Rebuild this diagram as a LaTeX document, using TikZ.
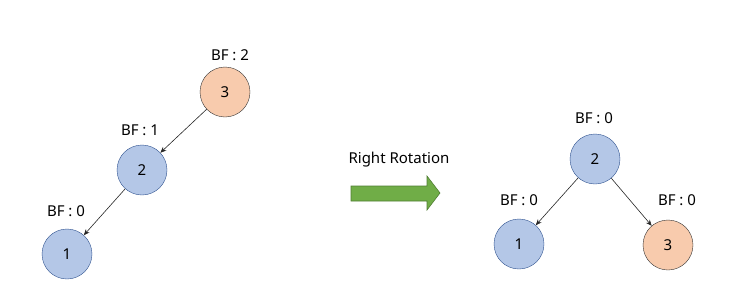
\documentclass[tikz,border=0pt]{standalone}
\usepackage{fontspec}
\setmainfont{Noto Sans}
\usepackage{xcolor}
\definecolor{nodeblue}{HTML}{B4C7E7}
\definecolor{nodeblueline}{HTML}{2F528F}
\definecolor{nodeorange}{HTML}{F8CBAD}
\definecolor{arrowgreen}{HTML}{70AD47}
\definecolor{arrowgreenline}{HTML}{507E32}
\tikzset{
  bnode/.style={circle, draw=nodeblueline, fill=nodeblue, minimum size=50pt, inner sep=0pt, font=\fontsize{15}{17}\selectfont},
  onode/.style={circle, draw=black!80, fill=nodeorange, minimum size=50pt, inner sep=0pt, font=\fontsize{15}{17}\selectfont},
  bf/.style={font=\fontsize{15}{17}\selectfont, inner sep=0pt},
  link/.style={-{Stealth[length=6pt,width=5pt]}, line width=0.6pt, black!85}
}
\usetikzlibrary{arrows.meta}
\begin{document}
\begin{tikzpicture}[x=1pt,y=-1pt]
  \useasboundingbox (0,0) rectangle (749,300);
  % before rotation
  \node[onode] (L3) at (225,92) {3};
  \node[bnode] (L2) at (142,170) {2};
  \node[bnode] (L1) at (67,254) {1};
  \node[bf] (bfL3) at (230,55) {BF : 2};
  \node[bf] (bfL2) at (140,130) {BF : 1};
  \node[bf] (bfL1) at (66,211) {BF : 0};
  \draw[link] (L3) -- (L2);
  \draw[link] (L2) -- (L1);
  % rotation arrow
  \node[bf] (rot) at (399,160) {Right Rotation};
  \filldraw[fill=arrowgreen, draw=arrowgreenline, line width=0.6pt]
    (351,186) -- (427,186) -- (427,176) -- (440,193) -- (427,210) -- (427,201) -- (351,201) -- cycle;
  % after rotation
  \node[bnode] (R2) at (595,159) {2};
  \node[bnode] (R1) at (519,244) {1};
  \node[onode] (R3) at (668,245) {3};
  \node[bf] (bfR2) at (594,118) {BF : 0};
  \node[bf] (bfR1) at (519,200) {BF : 0};
  \node[bf] (bfR3) at (677,200) {BF : 0};
  \draw[link] (R2) -- (R1);
  \draw[link] (R2) -- (R3);
\end{tikzpicture}
\end{document}
